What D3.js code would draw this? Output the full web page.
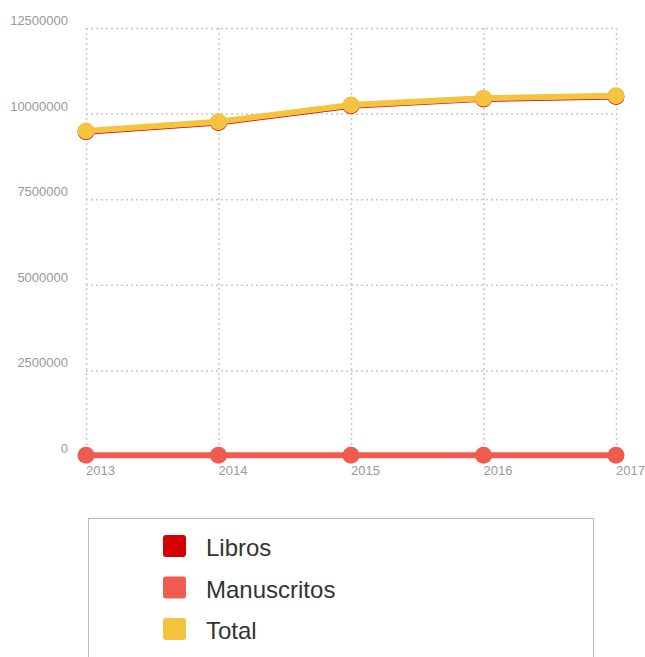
<!DOCTYPE html>
<html>
<head>
<meta charset="utf-8">
<script src="https://cdn.jsdelivr.net/npm/d3@7"></script>
<style>
  body { margin: 0; background: #fff; font-family: "Liberation Sans", Arial, sans-serif; }
  .grid line { stroke: #c8c8c8; stroke-width: 1.5px; stroke-dasharray: 2,3; }
  .grid .domain { display: none; }
  .tick-label { fill: #999; font-size: 13px; }
</style>
</head>
<body>
<div id="chart"></div>
<script>
// years on the x axis, values per series
const years = ["2013", "2014", "2015", "2016", "2017"];
const libros = [9470000, 9740000, 10230000, 10430000, 10500000];
const manuscritos = [25000, 25000, 25000, 25000, 25000];
const total = [9490000, 9760000, 10250000, 10450000, 10520000];
const yTicks = [0, 2500000, 5000000, 7500000, 10000000, 12500000];
const seriesNames = ["Libros", "Manuscritos", "Total"];
const seriesColors = ["#d50000", "#f05b4f", "#f4c33f"];

const series = [
  { name: seriesNames[0], values: libros, color: seriesColors[0] },
  { name: seriesNames[1], values: manuscritos, color: seriesColors[1] },
  { name: seriesNames[2], values: total, color: seriesColors[2] }
];

const W = 645, H = 657;
const margin = { top: 28, left: 86, right: 29, bottom: 201 };
const width = W - margin.left - margin.right;
const height = H - margin.top - margin.bottom;

const svg = d3.select("#chart").append("svg")
  .attr("width", W)
  .attr("height", H);

const g = svg.append("g")
  .attr("transform", "translate(" + margin.left + "," + margin.top + ")");

const x = d3.scalePoint().domain(years).range([0, width]);
const y = d3.scaleLinear().domain([0, 12500000]).range([height, 0]);

// grid
g.append("g").attr("class", "grid")
  .call(d3.axisLeft(y).tickValues(yTicks).tickSize(-width).tickFormat(""));
g.append("g").attr("class", "grid")
  .call(d3.axisBottom(x).tickSize(height).tickFormat(""));

// y labels
g.selectAll(".ylab").data(yTicks).enter().append("text")
  .attr("class", "tick-label")
  .attr("x", -18)
  .attr("y", d => y(d) - 3)
  .attr("text-anchor", "end")
  .text(d => d);

// x labels
g.selectAll(".xlab").data(years).enter().append("text")
  .attr("class", "tick-label")
  .attr("x", d => x(d))
  .attr("y", height + 19)
  .attr("text-anchor", "start")
  .text(d => d);

const line = d3.line()
  .x((d, i) => x(years[i]))
  .y(d => y(d));

series.forEach(s => {
  g.append("path")
    .attr("d", line(s.values))
    .attr("fill", "none")
    .attr("stroke", s.color)
    .attr("stroke-width", 6);
  g.selectAll(null).data(s.values).enter().append("circle")
    .attr("cx", (d, i) => x(years[i]))
    .attr("cy", d => y(d))
    .attr("r", 8.5)
    .attr("fill", s.color);
});

// legend
const legend = svg.append("g");
legend.append("rect")
  .attr("x", 88.5).attr("y", 518.5)
  .attr("width", 505).attr("height", 160)
  .attr("fill", "#fff")
  .attr("stroke", "#bbb");

const items = legend.selectAll(".item").data(series).enter().append("g")
  .attr("transform", (d, i) => "translate(163," + (535 + i * 41.5) + ")");
items.append("rect")
  .attr("width", 23).attr("height", 22)
  .attr("rx", 3)
  .attr("fill", d => d.color);
items.append("text")
  .attr("x", 43).attr("y", 21)
  .attr("font-size", "24px")
  .attr("fill", "#333")
  .text(d => d.name);
</script>
</body>
</html>
